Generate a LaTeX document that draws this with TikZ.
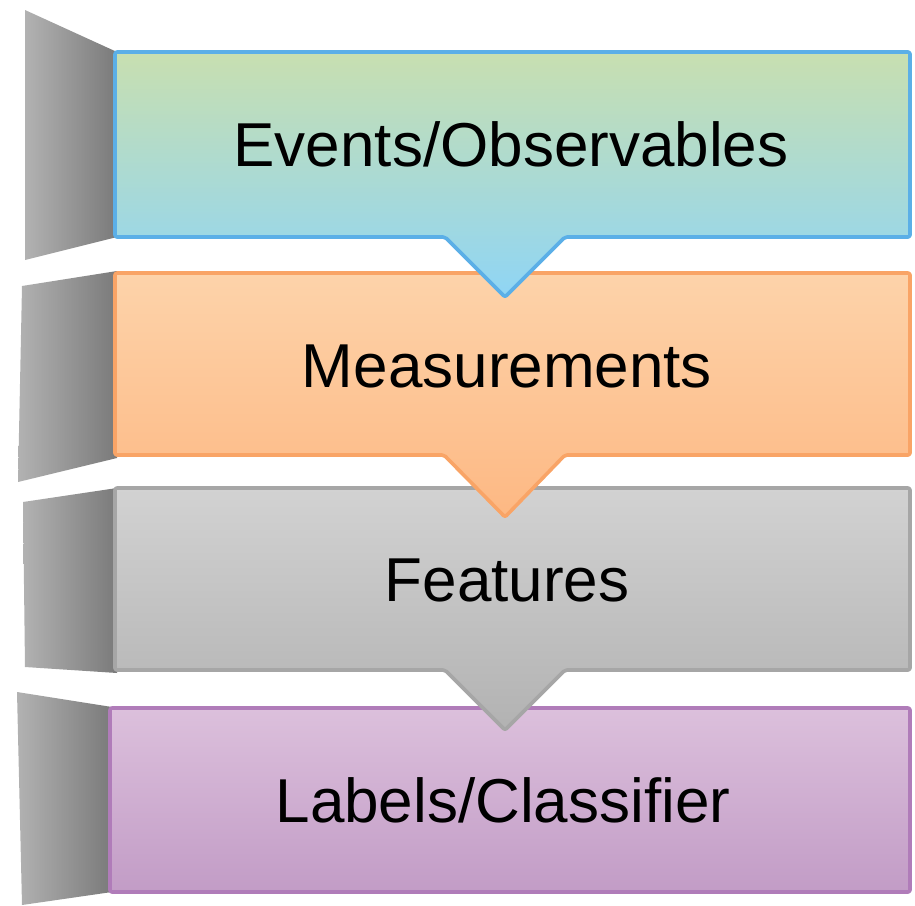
\documentclass[tikz,border=0pt]{standalone}
\usepackage{fontspec}
\setmainfont{Liberation Sans}
\definecolor{aTop}{HTML}{C8DFB0}
\definecolor{aBot}{HTML}{8FD5F5}
\definecolor{aLine}{HTML}{5BAFE7}
\definecolor{bTop}{HTML}{FDD3AA}
\definecolor{bBot}{HTML}{FDB883}
\definecolor{bLine}{HTML}{F9A466}
\definecolor{cTop}{HTML}{D2D2D2}
\definecolor{cBot}{HTML}{B2B2B2}
\definecolor{cLine}{HTML}{A6A6A6}
\definecolor{dTop}{HTML}{DCC0DC}
\definecolor{dBot}{HTML}{C29CC6}
\definecolor{dLine}{HTML}{B07CB9}
\definecolor{tabL}{HTML}{B2B2B2}
\definecolor{tabR}{HTML}{7A7A7A}
\tikzset{
  stagebox/.style={line width=3.6pt, rounded corners=2pt, line join=round},
  sidetab/.style={left color=tabL, right color=tabR, draw=none},
  lbl/.style={font=\fontsize{62}{70}\selectfont, text=black, inner sep=0pt}
}
\begin{document}
\begin{tikzpicture}[x=1pt,y=-1pt]
\useasboundingbox (0,0) rectangle (915,905);
% side tabs
\shade[sidetab] (17,692) -- (112,707) -- (112,892) -- (22,905) -- cycle;
\shade[sidetab] (23,502) -- (117,488) -- (117,673) -- (25,667) -- cycle;
\shade[sidetab] (22,286) -- (117,271) -- (117,458) -- (18,482) -- cycle;
\shade[sidetab] (25,10) -- (117,52) -- (117,237) -- (25,260) -- cycle;
% box 4
\shade[stagebox, top color=dTop, bottom color=dBot, draw=dLine]
  (110,708) -- (910,708) -- (910,892) -- (110,892) -- cycle;
% box 3
\shade[stagebox, top color=cTop, bottom color=cBot, draw=cLine]
  (115,488) -- (910,488) -- (910,670) -- (565,670) -- (505,730) -- (445,670) -- (115,670) -- cycle;
% box 2
\shade[stagebox, top color=bTop, bottom color=bBot, draw=bLine]
  (115,273) -- (910,273) -- (910,455) -- (565,455) -- (505,517) -- (444,455) -- (115,455) -- cycle;
% box 1
\shade[stagebox, top color=aTop, bottom color=aBot, draw=aLine]
  (115,52) -- (910,52) -- (910,237) -- (565,237) -- (505,297) -- (445,237) -- (115,237) -- cycle;
% labels
\node[lbl] (t1) at (511,144) {Events/Observables};
\node[lbl] (t2) at (507,366) {Measurements};
\node[lbl] (t3) at (507,580) {Features};
\node[lbl] (t4) at (503,800) {Labels/Classifier};
\end{tikzpicture}
\end{document}
